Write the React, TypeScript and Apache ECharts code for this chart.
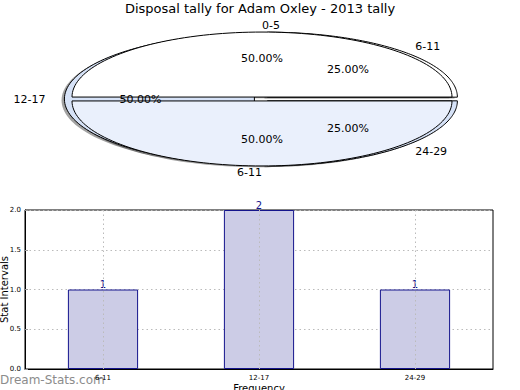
import { useEffect, useRef } from 'react';
import * as echarts from 'echarts';

const TITLE = 'Disposal tally for Adam Oxley - 2013 tally';
const WATERMARK = 'Dream-Stats.com';

// back pie (exploded)
const pieBackLabels = ['6-11', '12-17', '24-29'];
const pieBackValues = [1, 2, 1];
const pieBackColors = ['#ffffff', '#d6e2f7', '#d6e2f7'];
const pieBackExplode = [0.04, 0.04, 0.04];

// front pie
const pieFrontLabels = ['0-5', '6-11'];
const pieFrontValues = [1, 1];
const pieFrontColors = ['#ffffff', '#eaf0fc'];
const pieFrontExplode = [0.03, 0.03];

// bar chart
const barCategories = ['6-11', '12-17', '24-29'];
const barValues = [1, 2, 1];

const FONT = 'DejaVu Sans';
const PIE_CX = 262;
const PIE_CY = 99;
const RX = 190;
const RY = 65;
const SH_X = -0.015 * RX;
const SH_Y = 0.02 * RY;

function makePieRender(values: number[], labels: string[], colors: string[], explode: number[], zBase: number) {
  const total = values.reduce((a, b) => a + b, 0);
  return (params: any, api: any) => {
    const i = params.dataIndex;
    const v = api.value(0);
    let before = 0;
    for (let k = 0; k < i; k++) before += values[k];
    const a0 = (before / total) * 2 * Math.PI;
    const a1 = ((before + v) / total) * 2 * Math.PI;
    const mid = (a0 + a1) / 2;
    const ex = explode[i];
    const ox = ex * Math.cos(mid);
    const oy = ex * Math.sin(mid);
    const cx = PIE_CX + ox * RX;
    const cy = PIE_CY - oy * RY;
    const pts: number[][] = [[cx, cy]];
    const n = 90;
    for (let k = 0; k <= n; k++) {
      const t = a0 + ((a1 - a0) * k) / n;
      pts.push([cx + RX * Math.cos(t), cy - RY * Math.sin(t)]);
    }
    const shadowPts = pts.map((p) => [p[0] + SH_X, p[1] + SH_Y]);
    const xt = ox + 1.1 * Math.cos(mid);
    const yt = oy + 1.1 * Math.sin(mid);
    const xp = ox + 0.6 * Math.cos(mid);
    const yp = oy + 0.6 * Math.sin(mid);
    const pct = ((v / total) * 100).toFixed(2) + '%';
    return {
      type: 'group',
      children: [
        {
          type: 'polygon',
          z2: 0,
          shape: { points: shadowPts },
          style: { fill: 'rgba(70,70,70,0.5)', stroke: 'none' },
        },
        {
          type: 'polygon',
          z2: zBase,
          shape: { points: pts },
          style: { fill: colors[i], stroke: '#000', lineWidth: 1 },
        },
        {
          type: 'text',
          z2: 20,
          x: PIE_CX + xt * RX,
          y: PIE_CY - yt * RY,
          style: {
            text: labels[i],
            fill: '#000',
            font: `11px "${FONT}"`,
            align: xt > 0 ? 'left' : 'right',
            verticalAlign: 'middle',
          },
        },
        {
          type: 'text',
          z2: 20,
          x: PIE_CX + xp * RX,
          y: PIE_CY - yp * RY,
          style: {
            text: pct,
            fill: '#000',
            font: `11px "${FONT}"`,
            align: 'center',
            verticalAlign: 'middle',
          },
        },
      ],
    };
  };
}

export default function App() {
  const ref = useRef<HTMLDivElement>(null);
  useEffect(() => {
    if (!ref.current) return;
    const chart = echarts.init(ref.current, undefined, { renderer: 'svg' });
    const navy = '#14148c';
    const gridDot = '#bbbbbb';
    chart.setOption({
      animation: false,
      backgroundColor: '#ffffff',
      textStyle: { fontFamily: FONT },
      title: {
        text: TITLE,
        left: 'center',
        top: -3,
        textStyle: { fontSize: 13, fontWeight: 'normal', color: '#000', fontFamily: FONT },
      },
      graphic: [
        {
          type: 'text',
          left: 0,
          top: 374,
          z: 0,
          style: { text: WATERMARK, fill: '#8c8c8c', font: `12px "${FONT}"` },
        },
      ],
      grid: {
        left: 25,
        right: 27,
        top: 210,
        bottom: 21,
        outerBoundsMode: 'none',
        containLabel: false,
        show: true,
        borderColor: '#000',
        borderWidth: 1,
        backgroundColor: 'transparent',
      },
      xAxis: {
        type: 'category',
        data: barCategories,
        axisLine: { show: true, lineStyle: { color: '#000' } },
        axisTick: { show: true, alignWithLabel: true, inside: true, length: 3, lineStyle: { color: '#999' } },
        axisLabel: { fontSize: 7, color: '#000', margin: 5 },
        splitLine: { show: false },
        name: 'Frequency',
        nameLocation: 'middle',
        nameGap: 14,
        nameMoveOverlap: false,
        nameTextStyle: { fontSize: 10, color: '#000' },
      },
      yAxis: {
        type: 'value',
        min: 0,
        max: 2,
        interval: 0.5,
        axisLine: { show: true, lineStyle: { color: '#000' } },
        axisTick: { show: true, inside: true, length: 3, lineStyle: { color: '#999' } },
        axisLabel: { fontSize: 7, color: '#000', margin: 4, formatter: (v: number) => v.toFixed(1) },
        splitLine: { show: true, lineStyle: { type: [1.5, 3], color: gridDot, width: 1 } },
        name: 'Stat Intervals',
        nameLocation: 'middle',
        nameGap: 16,
        nameMoveOverlap: false,
        nameRotate: 90,
        nameTextStyle: { fontSize: 10, color: '#000' },
      },
      series: [
        {
          type: 'custom',
          coordinateSystem: 'none',
          renderItem: makePieRender(pieBackValues, pieBackLabels, pieBackColors, pieBackExplode, 1),
          data: pieBackValues,
          silent: true,
        },
        {
          type: 'custom',
          coordinateSystem: 'none',
          renderItem: makePieRender(pieFrontValues, pieFrontLabels, pieFrontColors, pieFrontExplode, 2),
          data: pieFrontValues,
          silent: true,
        },
        {
          type: 'bar',
          data: barValues,
          barWidth: '45%',
          itemStyle: { color: '#ccccE6', borderColor: navy, borderWidth: 1 },
          label: { show: true, position: 'top', distance: 0, color: navy, fontSize: 10 },
          markLine: {
            silent: true,
            symbol: ['none', 'none'],
            label: { show: false },
            lineStyle: { type: [1.5, 3], color: gridDot, width: 1 },
            data: barCategories.map((c) => ({ xAxis: c })),
          },
        },
      ],
    });
    return () => chart.dispose();
  }, []);
  return (
    <div
      ref={ref}
      style={{ position: 'fixed', left: 0, top: 0, width: 520, height: 390 }}
    />
  );
}
